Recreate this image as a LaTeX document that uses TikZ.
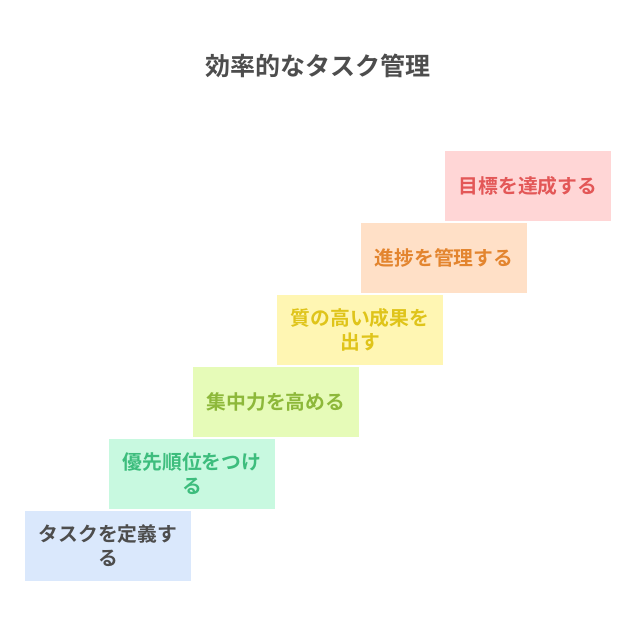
\documentclass[tikz,border=0pt]{standalone}
\usepackage{fontspec}
\newfontfamily\cjk{Noto Sans CJK JP}[BoldFont={Noto Sans CJK JP Bold}]
\definecolor{f1}{HTML}{DAE8FC}\definecolor{t1}{HTML}{4D4D4D}
\definecolor{f2}{HTML}{C8F9E0}\definecolor{t2}{HTML}{3DBD7D}
\definecolor{f3}{HTML}{E6FBB8}\definecolor{t3}{HTML}{8DB83A}
\definecolor{f4}{HTML}{FFF6B3}\definecolor{t4}{HTML}{DFC41A}
\definecolor{f5}{HTML}{FFE0C7}\definecolor{t5}{HTML}{E3852F}
\definecolor{f6}{HTML}{FFD6D6}\definecolor{t6}{HTML}{E35757}
\definecolor{titlec}{HTML}{4D4D4D}
\begin{document}
\begin{tikzpicture}[x=1pt,y=1pt,
  stepbox/.style={draw=none,minimum width=166pt,minimum height=70pt,inner sep=0pt,
    align=center,font=\cjk\bfseries\fontsize{19.8}{24}\selectfont},
  titletext/.style={font=\cjk\bfseries\fontsize{25}{30}\selectfont,text=titlec}]
\useasboundingbox[fill=white] (0,0) rectangle (636,630);
\node[titletext] (title) at (318,564) {効率的なタスク管理};
\node[stepbox,fill=f1,text=t1] (s1) at (108,84) {タスクを定義す\\る};
\node[stepbox,fill=f2,text=t2] (s2) at (192,156) {優先順位をつけ\\る};
\node[stepbox,fill=f3,text=t3] (s3) at (276,228) {集中力を高める};
\node[stepbox,fill=f4,text=t4] (s4) at (360,300) {質の高い成果を\\出す};
\node[stepbox,fill=f5,text=t5] (s5) at (444,372) {進捗を管理する};
\node[stepbox,fill=f6,text=t6] (s6) at (528,444) {目標を達成する};
\end{tikzpicture}
\end{document}
